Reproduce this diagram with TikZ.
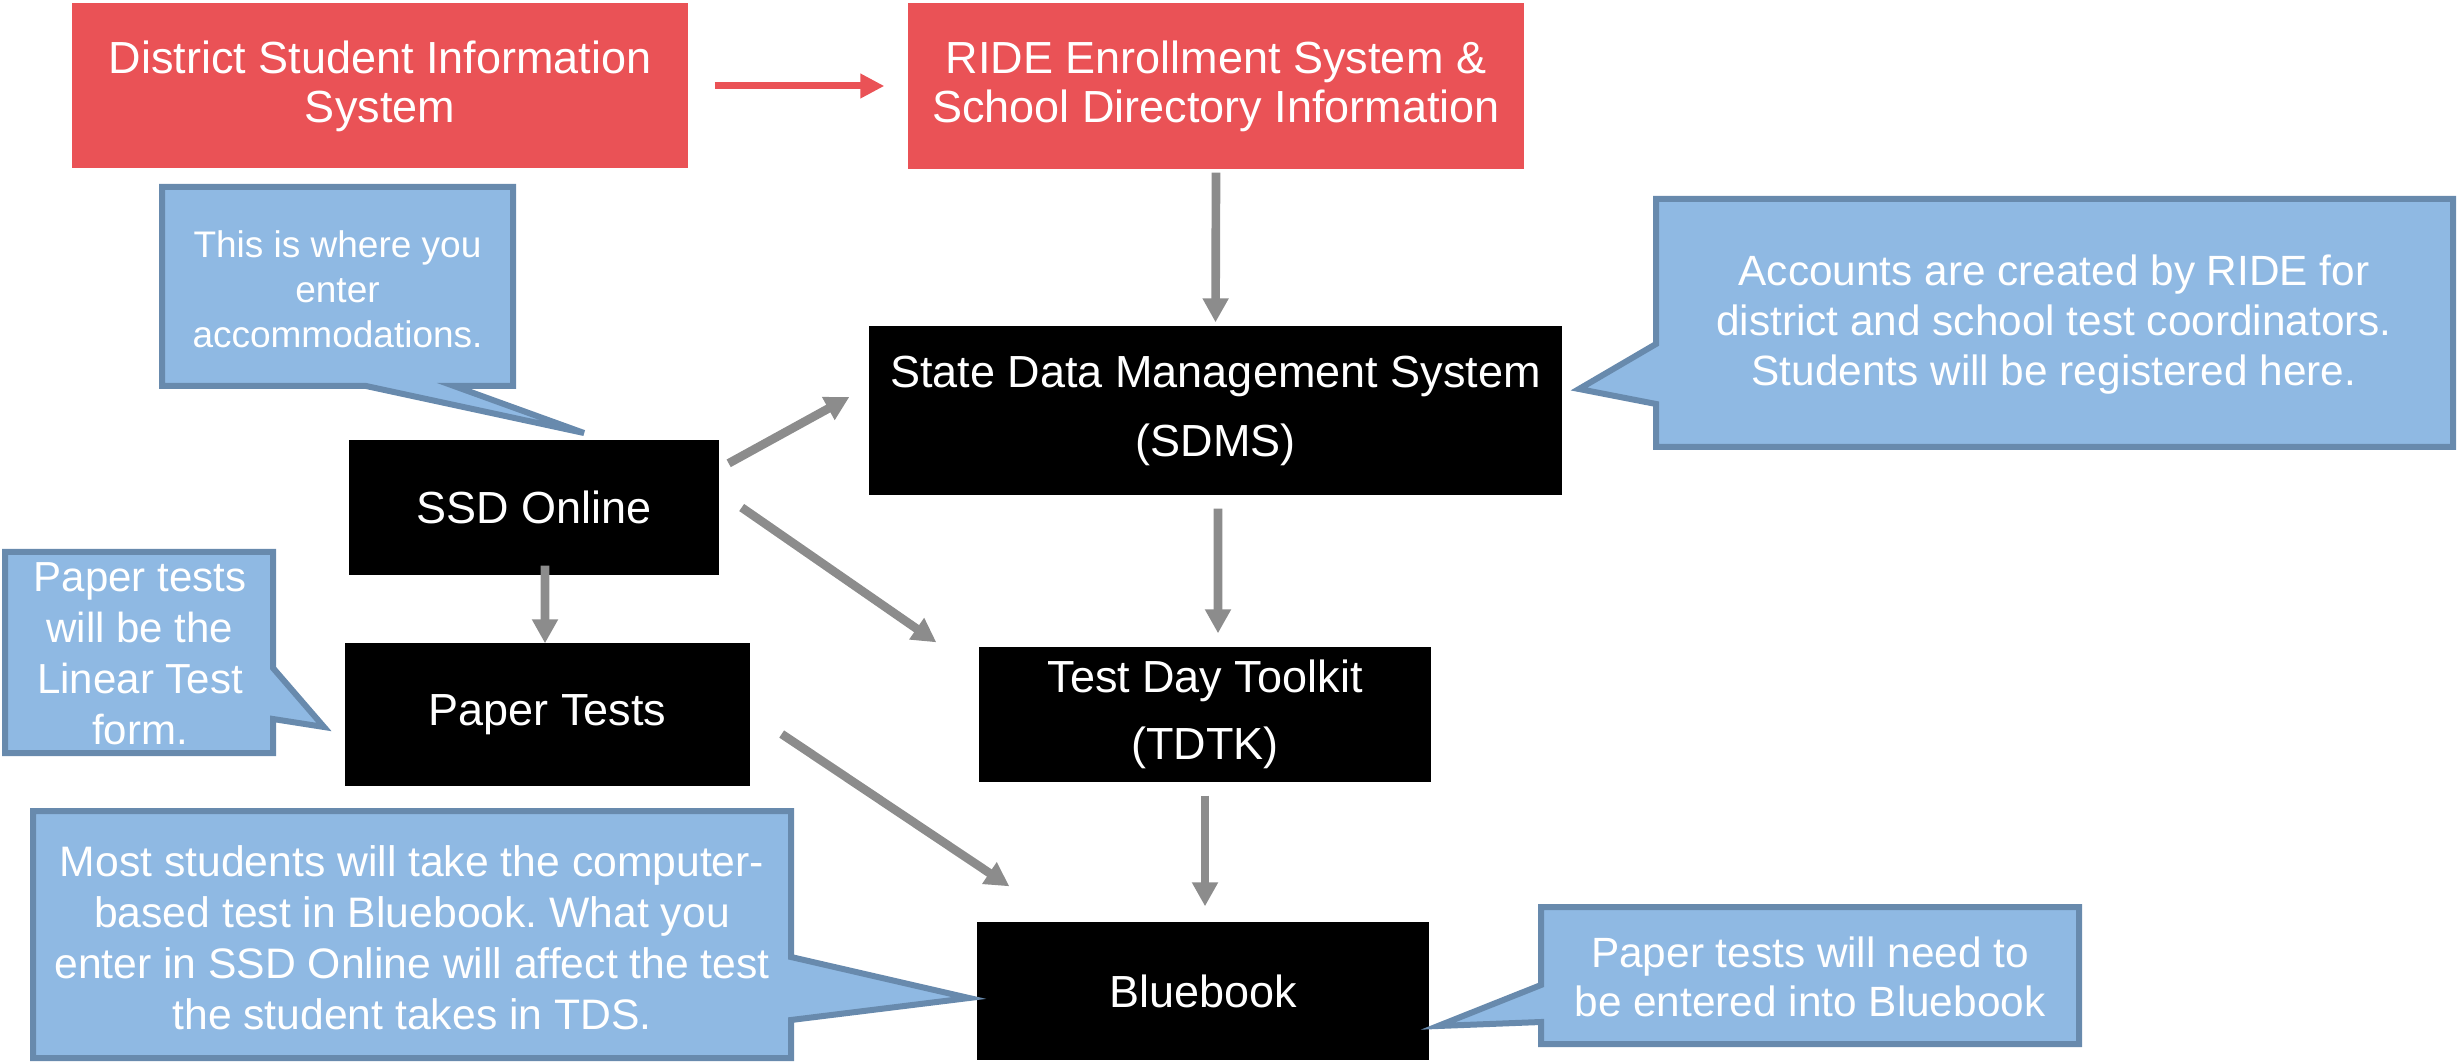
\documentclass[tikz,border=0pt]{standalone}
\usepackage{fontspec}
\setmainfont{Liberation Sans}
\usetikzlibrary{arrows.meta}
\definecolor{boxred}{RGB}{234,82,86}
\definecolor{callfill}{RGB}{143,185,227}
\definecolor{callline}{RGB}{104,138,173}
\definecolor{arrgray}{RGB}{140,140,140}
\tikzset{
  sysbox/.style={rectangle, inner sep=0pt, text=white, align=center, font=\fontsize{13.5}{14.7}\selectfont},
  redbox/.style={sysbox, fill=boxred},
  blackbox/.style={sysbox, fill=black},
  calltext/.style={text=white, align=center, inner sep=0pt},
  callshape/.style={fill=callfill, draw=callline, line width=1.8pt, line join=miter},
  grayarrow/.style={draw=arrgray, line width=2.6pt, -{Triangle[length=7.2pt,width=7.4pt]}},
  redarrow/.style={draw=boxred, line width=2.1pt, -{Triangle[length=7.2pt,width=7pt]}},
}
\frenchspacing
\begin{document}
\frenchspacing
\begin{tikzpicture}[x=0.3pt,y=-0.3pt]
\useasboundingbox (0,0) rectangle (2458,1062);

% system boxes
\node[redbox, minimum width=184.8pt, minimum height=49.5pt] (dsis) at (380,86) {District Student Information\\System};
\node[redbox, minimum width=184.8pt, minimum height=49.8pt] (ride) at (1216,86) {RIDE Enrollment System \&\\School Directory Information};
\node[blackbox, minimum width=207.9pt, minimum height=50.7pt, font=\fontsize{13.5}{20.7}\selectfont] (sdms) at (1215.5,410.5) {State Data Management System\\(SDMS)};
\node[blackbox, minimum width=111pt, minimum height=40.5pt] (ssd) at (534,507.5) {SSD Online};
\node[blackbox, minimum width=121.5pt, minimum height=42.9pt] (paper) at (547.5,714.5) {Paper Tests};
\node[blackbox, minimum width=135.6pt, minimum height=40.5pt, font=\fontsize{13.5}{20.1}\selectfont] (tdtk) at (1205,714.5) {Test Day Toolkit\\(TDTK)};
\node[blackbox, minimum width=135.6pt, minimum height=41.4pt] (blue) at (1203,991) {Bluebook};

% callouts
\filldraw[callshape] (162,187) -- (513,187) -- (513,386) -- (454,386) -- (584,433) -- (366,386) -- (162,386) -- cycle;
\node[calltext, font=\fontsize{11.1}{13.5}\selectfont] (c1) at (337.5,289) {This is where you\\enter\\accommodations.};

\filldraw[callshape] (1656,199) -- (2453,199) -- (2453,447) -- (1656,447) -- (1656,404) -- (1579,389) -- (1656,344) -- cycle;
\node[calltext, font=\fontsize{12.7}{15}\selectfont] (c2) at (2054,325) {Accounts are created by RIDE for\\district and school test coordinators.\\Students will be registered here.};

\filldraw[callshape] (5,552) -- (273,552) -- (273,668) -- (324,727) -- (273,719) -- (273,753) -- (5,753) -- cycle;
\node[calltext, font=\fontsize{12.6}{15.3}\selectfont] (c3) at (140,654) {Paper tests\\will be the\\Linear Test\\form.};

\filldraw[callshape] (33,811) -- (791,811) -- (791,957) -- (969,998) -- (791,1020) -- (791,1058) -- (33,1058) -- cycle;
\node[calltext, font=\fontsize{12.8}{15.3}\selectfont] (c4) at (412,938) {Most students will take the computer-\\based test in Bluebook. What you\\enter in SSD Online will affect the test\\the student takes in TDS.};

\filldraw[callshape] (1541,907) -- (2079,907) -- (2079,1044) -- (1541,1044) -- (1541,1022) -- (1438,1026) -- (1541,985) -- cycle;
\node[calltext, font=\fontsize{12.7}{14.7}\selectfont] (c5) at (1810,977) {Paper tests will need to\\be entered into Bluebook};

% connectors
\draw[redarrow] ([xshift=7.8pt]dsis.east) -- ([xshift=-6.9pt]ride.west);
\draw[grayarrow] ([yshift=-0.9pt]ride.south) -- ([yshift=0.9pt]sdms.north);
\draw[grayarrow] ([xshift=2.7pt,yshift=-7.2pt]ssd.north east) -- ([xshift=-5.7pt,yshift=4.05pt]sdms.west);
\draw[grayarrow] ([xshift=6.6pt]ssd.east) -- ([xshift=-12.6pt,yshift=1.2pt]tdtk.north west);
\draw[grayarrow] ([xshift=3.3pt,yshift=3pt]ssd.south) -- ([xshift=-0.75pt,yshift=-0.3pt]paper.north);
\draw[grayarrow] ([xshift=0.75pt,yshift=-3.9pt]sdms.south) -- ([xshift=3.9pt,yshift=3.9pt]tdtk.north);
\draw[grayarrow] ([xshift=9.3pt,yshift=-5.85pt]paper.east) -- ([xshift=9.9pt,yshift=10.5pt]blue.north west);
\draw[grayarrow] ([yshift=-3.9pt]tdtk.south) -- ([xshift=0.6pt,yshift=4.5pt]blue.north);
\end{tikzpicture}
\end{document}
